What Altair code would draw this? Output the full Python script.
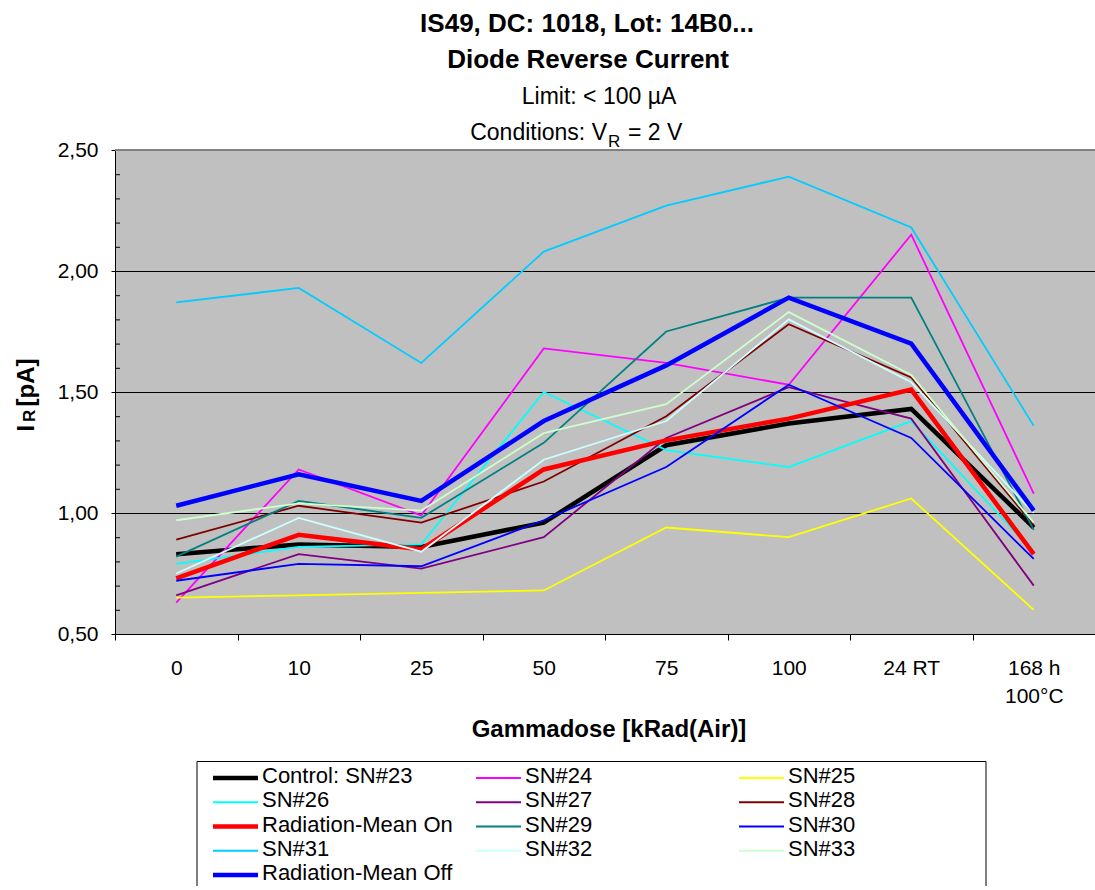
import altair as alt
import pandas as pd

# ---------------- data ----------------
doses = ["0", "10", "25", "50", "75", "100", "24 RT", "168 h\n100°C"]

control_sn23 = [0.83, 0.87, 0.86, 0.96, 1.28, 1.37, 1.43, 0.94]
sn24 = [0.63, 1.18, 0.99, 1.68, 1.62, 1.53, 2.15, 1.08]
sn25 = [0.65, 0.66, 0.67, 0.68, 0.94, 0.90, 1.06, 0.60]
sn26 = [0.79, 0.86, 0.87, 1.50, 1.26, 1.19, 1.38, 0.84]
sn27 = [0.66, 0.83, 0.77, 0.90, 1.31, 1.52, 1.39, 0.70]
sn28 = [0.89, 1.03, 0.96, 1.13, 1.40, 1.78, 1.56, 0.95]
mean_on = [0.73, 0.91, 0.85, 1.18, 1.30, 1.39, 1.51, 0.83]
sn29 = [0.82, 1.05, 0.98, 1.29, 1.75, 1.89, 1.89, 0.93]
sn30 = [0.72, 0.79, 0.78, 0.97, 1.19, 1.53, 1.31, 0.81]
sn31 = [1.87, 1.93, 1.62, 2.08, 2.27, 2.39, 2.18, 1.36]
sn32 = [0.75, 0.98, 0.84, 1.22, 1.38, 1.80, 1.54, 1.00]
sn33 = [0.97, 1.04, 1.01, 1.33, 1.45, 1.83, 1.57, 0.96]
mean_off = [1.03, 1.16, 1.05, 1.38, 1.61, 1.89, 1.70, 1.01]

series_names = ["Control: SN#23", "SN#24", "SN#25", "SN#26", "SN#27", "SN#28",
                "Radiation-Mean On", "SN#29", "SN#30", "SN#31", "SN#32", "SN#33",
                "Radiation-Mean Off"]
series_values = [control_sn23, sn24, sn25, sn26, sn27, sn28, mean_on,
                 sn29, sn30, sn31, sn32, sn33, mean_off]
series_colors = ["#000000", "#FF00FF", "#FFFF00", "#00FFFF", "#800080", "#800000",
                 "#FF0000", "#008080", "#0000FF", "#00CCFF", "#CCFFFF", "#CCFFCC",
                 "#0000FF"]
series_widths = [4.5, 1.8, 1.8, 1.8, 1.8, 1.8, 4.5, 1.8, 1.8, 1.8, 1.8, 1.8, 4.5]

y_major = [0.5, 1.0, 1.5, 2.0, 2.5]
y_grid = [1.0, 1.5, 2.0]
y_minor = [0.6, 0.7, 0.8, 0.9, 1.1, 1.2, 1.3, 1.4, 1.6, 1.7, 1.8, 1.9,
           2.1, 2.2, 2.3, 2.4]

FONT = "Liberation Sans"
W, H = 980, 484

rows = []
for name, vals in zip(series_names, series_values):
    for d, v in zip(doses, vals):
        rows.append({"series": name, "dose": d, "value": v})
df = pd.DataFrame(rows)

x_enc = alt.X(
    "dose:N",
    scale=alt.Scale(type="band", domain=doses, paddingInner=0, paddingOuter=0),
    axis=alt.Axis(title=None, labelAngle=0, labelFont=FONT, labelFontSize=21,
                  labelColor="black", labelPadding=17, labelLineHeight=28,
                  labelExpr="split(datum.label, '\\n')", labelOverlap=False,
                  tickBand="extent", tickSize=6, tickColor="black",
                  domainColor="black", grid=False),
)
y_enc = alt.Y(
    "value:Q",
    scale=alt.Scale(domain=[0.5, 2.5], nice=False, zero=False),
    axis=alt.Axis(title=None, values=y_major, grid=False,
                  labelExpr="replace(format(datum.value, '.2f'), '.', ',')",
                  labelFont=FONT, labelFontSize=21, labelColor="black",
                  labelPadding=13, tickSize=4, tickColor="black",
                  domainColor="black"),
)

grid = alt.Chart(pd.DataFrame({"value": y_grid})).mark_rule(
    color="black", strokeWidth=1, yOffset=0.5).encode(
    y="value:Q", x=alt.value(0), x2=alt.value(W))
minor = alt.Chart(pd.DataFrame({"value": y_minor})).mark_rule(
    color="black", strokeWidth=1, yOffset=0.5).encode(
    y="value:Q", x=alt.value(0), x2=alt.value(5))
dummy = pd.DataFrame({"a": [0]})
topline = alt.Chart(dummy).mark_rule(color="#808080", strokeWidth=2).encode(
    x=alt.value(0), x2=alt.value(W), y=alt.value(0))

lines = []
for name, c, w in zip(series_names, series_colors, series_widths):
    lines.append(
        alt.Chart(df).transform_filter(alt.datum.series == name)
        .mark_line(color=c, strokeWidth=w, strokeJoin="miter")
        .encode(x=x_enc, y=y_enc)
    )

plot = alt.layer(grid, minor, topline, *lines)

# ---------------- legend ----------------
n = len(series_names)
leg_df = pd.DataFrame({
    "name": series_names,
    "color": series_colors,
    "lw": series_widths,
    "col": [i % 3 for i in range(n)],
    "row": [i // 3 for i in range(n)],
})
lx = alt.X("col:Q", scale=alt.Scale(domain=[0, 2], range=[98, 624]), axis=None)
ly = alt.Y("row:Q", scale=alt.Scale(domain=[0, 4], range=[628, 725]), axis=None)

box = alt.Chart(dummy).mark_rect(fill="white", stroke="black", strokeWidth=1).encode(
    x=alt.value(82), x2=alt.value(871), y=alt.value(611.5), y2=alt.value(770))
leg_rules = alt.Chart(leg_df).mark_rule(x2Offset=45).encode(
    x=lx, x2=alt.X2("col:Q"), y=ly,
    color=alt.Color("color:N", scale=None),
    strokeWidth=alt.StrokeWidth("lw:Q", scale=None))
leg_text = alt.Chart(leg_df).mark_text(
    align="left", baseline="alphabetic", dx=49, dy=5, fontSize=22, font=FONT,
    color="black").encode(x=lx, y=ly, text="name:N")
legend = alt.layer(box, leg_rules, leg_text)


# ---------------- titles ----------------
def label(text, x, y, size, bold=False, align="center", angle=0):
    kw = dict(text=text, align=align, baseline="alphabetic", fontSize=size,
              font=FONT, color="black", fontWeight="bold" if bold else "normal")
    if angle:
        kw["angle"] = angle
    return alt.Chart(dummy).mark_text(**kw).encode(x=alt.value(x), y=alt.value(y))


titles = [
    label("IS49, DC: 1018, Lot: 14B0...", 472, -118.3, 26, bold=True),
    label("Diode Reverse Current", 473, -81.7, 26, bold=True),
    label("Limit: < 100 µA", 484, -46, 23),
    label("Conditions: V", 492, -10, 23, align="right"),
    label("R", 493, -3.3, 17, align="left"),
    label("= 2 V", 513, -10, 23, align="left"),
    label("Gammadose [kRad(Air)]", 494, 586.7, 24, bold=True),
    label("I", -81.5, 281.5, 24, bold=True, align="left", angle=270),
    label("R", -80, 272, 17, bold=True, align="left", angle=270),
    label("[pA]", -81.5, 256.5, 24, bold=True, align="left", angle=270),
]

chart = alt.layer(plot, legend, *titles).resolve_scale(
    x="independent", y="independent"
).properties(
    width=W, height=H,
    autosize=alt.AutoSizeParams(type="none"),
    padding={"left": 115, "top": 150, "right": 0, "bottom": 252},
).configure_view(fill="#C0C0C0", stroke="transparent")

chart.save("out.html", embed_options={"renderer": "svg", "actions": False})
